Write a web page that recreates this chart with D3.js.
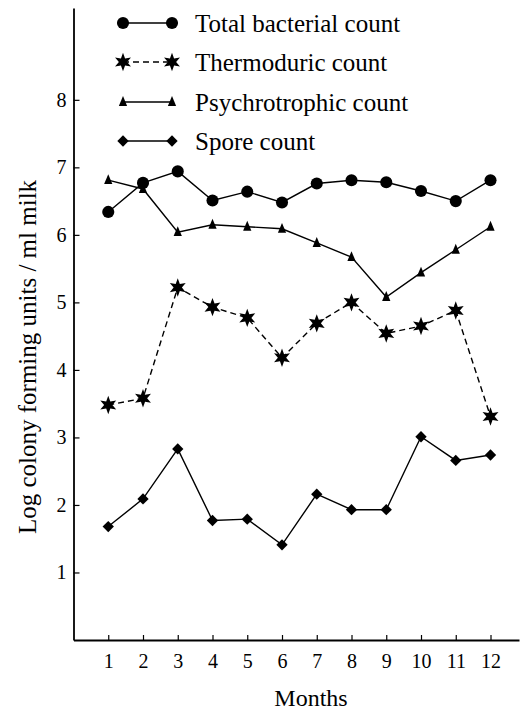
<!DOCTYPE html>
<html>
<head>
<meta charset="utf-8">
<script src="https://cdn.jsdelivr.net/npm/d3@7"></script>
<style>
	body { margin: 0; background: #fff; }
	text { font-family: 'Liberation Serif', 'DejaVu Serif', serif; fill: #000; }
</style>
</head>
<body>
<div id="chart"></div>
<script>
let months		= [1, 2, 3, 4, 5, 6, 7, 8, 9, 10, 11, 12];
let yTicks		= [1, 2, 3, 4, 5, 6, 7, 8];

let totalCount	= [6.34, 6.77, 6.94, 6.51, 6.64, 6.48, 6.76, 6.81, 6.78, 6.65, 6.50, 6.81];
let thermoCount	= [3.48, 3.58, 5.22, 4.93, 4.77, 4.18, 4.69, 5.00, 4.54, 4.65, 4.88, 3.31];
let psychCount	= [6.81, 6.68, 6.04, 6.15, 6.12, 6.09, 5.88, 5.67, 5.08, 5.44, 5.78, 6.12];
let sporeCount	= [1.68, 2.09, 2.83, 1.77, 1.79, 1.41, 2.16, 1.93, 1.93, 3.01, 2.66, 2.74];

let seriesNames	= ['Total bacterial count', 'Thermoduric count', 'Psychrotrophic count', 'Spore count'];

// six pointed star for the thermoduric series
let star6 = {
	draw(ctx, size) {
		let r = Math.sqrt(size) * 0.75, ri = r * 0.45;
		for (let i = 0; i < 12; i++) {
			let a = Math.PI / 6 * i - Math.PI / 2;
			let rr = i % 2 ? ri : r;
			if (i === 0) ctx.moveTo(rr * Math.cos(a), rr * Math.sin(a));
			else ctx.lineTo(rr * Math.cos(a), rr * Math.sin(a));
		}
		ctx.closePath();
	}
};

// narrow triangle (spike)
let spike = {
	draw(ctx, size) {
		let h = Math.sqrt(size) * 1.1, w = h * 0.42;
		ctx.moveTo(0, -h * 0.6);
		ctx.lineTo(w, h * 0.4);
		ctx.lineTo(-w, h * 0.4);
		ctx.closePath();
	}
};

let series = [
	{ name: seriesNames[0], values: totalCount,	symbol: d3.symbolCircle,	size: 115,	rotate: 0,	dash: null },
	{ name: seriesNames[1], values: thermoCount,	symbol: star6,				size: 150,	rotate: 0,	dash: '6,4' },
	{ name: seriesNames[2], values: psychCount,	symbol: spike,				size: 80,	rotate: 0,	dash: null },
	{ name: seriesNames[3], values: sporeCount,	symbol: d3.symbolSquare,	size: 64,	rotate: 45,	dash: null }
];

let canvasWidth		= 521;
let canvasHeight	= 711;

let x = d3.scaleLinear().domain([0, 12.82]).range([73.5, 519]);
let y = d3.scaleLinear().domain([0, 9.36]).range([640, 8]);

let svg = d3.select('#chart').append('svg')
	.attr('width', canvasWidth)
	.attr('height', canvasHeight);

// axes
let xAxis = svg.append('g')
	.attr('transform', 'translate(0,' + y(0) + ')')
	.call(d3.axisBottom(x).tickValues(months).tickSizeInner(-5).tickSizeOuter(0).tickPadding(14));

let yAxis = svg.append('g')
	.attr('transform', 'translate(' + x(0) + ',0)')
	.call(d3.axisLeft(y).tickValues(yTicks).tickSizeInner(-6).tickSizeOuter(0).tickPadding(7));

[xAxis, yAxis].forEach((g) => {
	g.attr('font-family', null);
	g.select('.domain').attr('stroke', '#000').attr('stroke-width', 1.8);
	g.selectAll('.tick line').attr('stroke', '#000').attr('stroke-width', 1.2);
	g.selectAll('.tick text')
		.style('font-family', "'Liberation Serif', 'DejaVu Serif', serif")
		.style('font-size', '20px')
		.attr('fill', '#000');
});

xAxis.selectAll('.tick text').attr('dy', '0.71em');

svg.append('text')
	.attr('x', 311)
	.attr('y', 698)
	.attr('text-anchor', 'middle')
	.attr('dominant-baseline', 'central')
	.style('font-size', '24px')
	.text('Months');

svg.append('text')
	.attr('transform', 'translate(27,357)rotate(-90)')
	.attr('text-anchor', 'middle')
	.attr('dominant-baseline', 'central')
	.style('font-size', '25px')
	.text('Log colony forming units / ml milk');

// lines and markers
let line = d3.line()
	.x((d, i) => x(months[i]))
	.y((d) => y(d));

let plot = svg.append('g').attr('id', 'plot');

series.forEach((s) => {
	plot.append('path')
		.datum(s.values)
		.attr('d', line)
		.attr('fill', 'none')
		.attr('stroke', '#000')
		.attr('stroke-width', 1.4)
		.attr('stroke-dasharray', s.dash);

	plot.selectAll(null).data(s.values).enter().append('path')
		.attr('d', d3.symbol().type(s.symbol).size(s.size))
		.attr('transform', (d, i) => 'translate(' + x(months[i]) + ',' + y(d) + ')rotate(' + s.rotate + ')')
		.attr('fill', '#000');
});

// legend
let legendRows = [23, 62, 102, 141];

let legend = svg.append('g').attr('id', 'legend')
	.selectAll('g').data(series).enter().append('g')
		.attr('transform', (s, i) => 'translate(0,' + legendRows[i] + ')');

legend.append('line')
	.attr('x1', 123)
	.attr('x2', 172)
	.attr('stroke', '#000')
	.attr('stroke-width', 1.4)
	.attr('stroke-dasharray', (s) => s.dash);

[123, 172].forEach((mx) => {
	legend.append('path')
		.attr('d', (s) => d3.symbol().type(s.symbol).size(s.size)())
		.attr('transform', (s) => 'translate(' + mx + ',0)rotate(' + s.rotate + ')')
		.attr('fill', '#000');
});

legend.append('text')
	.attr('x', 195)
	.attr('dominant-baseline', 'central')
	.style('font-size', '25px')
	.text((s) => s.name);
</script>
</body>
</html>
